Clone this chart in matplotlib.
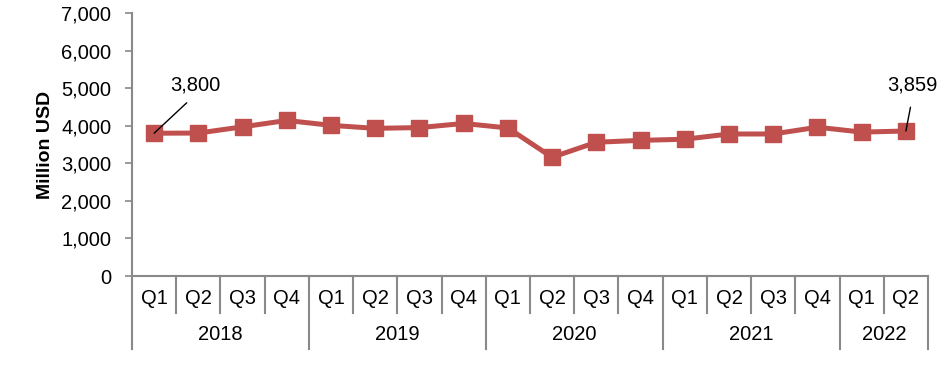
import matplotlib.pyplot as plt
import matplotlib.transforms as mtransforms

plt.rcParams['font.family'] = ['Liberation Sans', 'DejaVu Sans']

# Data
years = ["2018", "2019", "2020", "2021", "2022"]
quarters_per_year = [4, 4, 4, 4, 2]
quarters = ["Q1", "Q2", "Q3", "Q4"] * 4 + ["Q1", "Q2"]
values = [3800, 3805, 3970, 4140, 4010, 3930, 3950, 4060,
          3940, 3160, 3560, 3610, 3640, 3780, 3780, 3960,
          3830, 3859]

red = "#C0504D"
grey = "#898989"
fs = 14.5

fig = plt.figure(figsize=(9.48, 3.71), dpi=100)
ax = fig.add_axes([132/948, 95/371, 796/948, 263/371])

x = list(range(len(values)))
ax.plot(x, values, color=red, lw=3.6, marker="s", ms=11, mfc=red, mec=red)

ax.set_xlim(-0.5, len(values) - 0.5)
ax.set_ylim(0, 7000)
ax.set_yticks(range(0, 7001, 1000))
ax.set_yticklabels([f"{v:,}" for v in range(0, 7001, 1000)])
ax.tick_params(axis="y", direction="out", length=5, width=1.2, color=grey,
               pad=10, labelsize=fs)
ax.set_xticks([])
ax.set_ylabel("Million USD", fontsize=14, fontweight="bold", labelpad=5)

for side in ["top", "right"]:
    ax.spines[side].set_visible(False)
for side in ["left", "bottom"]:
    ax.spines[side].set_color(grey)
    ax.spines[side].set_linewidth(1.5)

# Two-level category axis
trans = mtransforms.blended_transform_factory(ax.transData, ax.transAxes)
for i, q in enumerate(quarters):
    ax.text(i, -0.084, q, transform=trans, ha="center", va="center", fontsize=fs)

start = 0
bounds = [-0.5]
for yr, n in zip(years, quarters_per_year):
    mid = start + (n - 1) / 2
    ax.text(mid, -0.224, yr, transform=trans, ha="center", va="center", fontsize=fs)
    for k in range(1, n):
        b = start + k - 0.5
        ax.plot([b, b], [0, -0.14], transform=trans, color=grey, lw=1.5, clip_on=False)
    start += n
    bounds.append(start - 0.5)
for b in bounds:
    ax.plot([b, b], [0, -0.278], transform=trans, color=grey, lw=1.5, clip_on=False)

# Data labels
ax.annotate(f"{values[0]:,}", xy=(0, values[0]), xytext=(30, 28),
            textcoords="offset points", ha="center", va="bottom", fontsize=fs,
            arrowprops=dict(arrowstyle="-", color="black", lw=1,
                            shrinkA=6, shrinkB=0, relpos=(0.5, 0)))
ax.annotate(f"{values[-1]:,}", xy=(len(values) - 1, values[-1]), xytext=(5, 26),
            textcoords="offset points", ha="center", va="bottom", fontsize=fs,
            arrowprops=dict(arrowstyle="-", color="black", lw=1,
                            shrinkA=7, shrinkB=0, relpos=(0.5, 0)))

fig.savefig("out.png", dpi=100)
